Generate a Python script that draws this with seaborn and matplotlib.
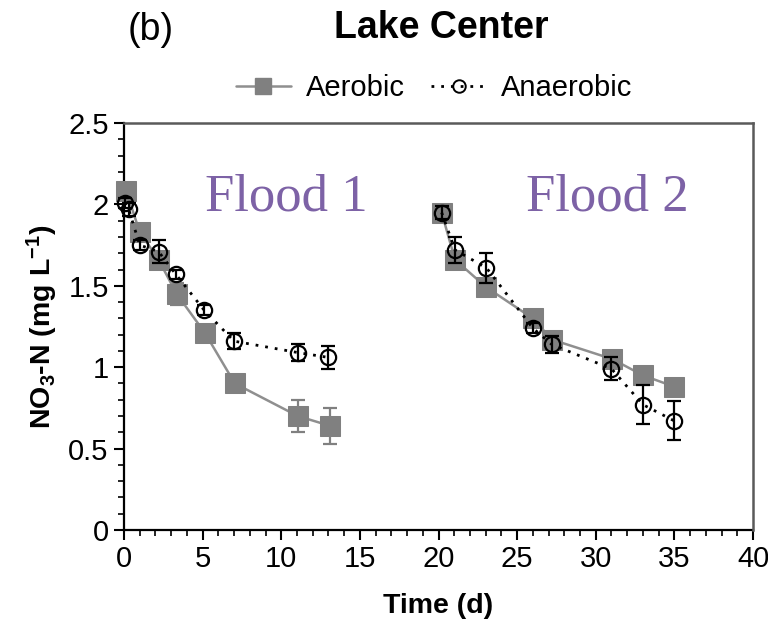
import numpy as np
import pandas as pd
import matplotlib
matplotlib.use("Agg")
import matplotlib.pyplot as plt
from matplotlib.ticker import MultipleLocator
from matplotlib.lines import Line2D
import seaborn as sns

# ---------------- data ----------------
aer_t1 = [0.15, 1.0, 2.2, 3.35, 5.15, 7.05, 11.05, 13.1]
aer_y1 = [2.08, 1.83, 1.66, 1.45, 1.21, 0.90, 0.70, 0.64]
aer_e1 = [0.04, 0.04, 0.04, 0.07, 0.04, 0.03, 0.10, 0.11]
aer_t2 = [20.2, 21.05, 23.05, 26.0, 27.2, 31.05, 33.0, 35.0]
aer_y2 = [1.95, 1.66, 1.49, 1.30, 1.17, 1.05, 0.95, 0.88]
aer_e2 = [0.04, 0.03, 0.03, 0.03, 0.03, 0.03, 0.03, 0.03]

ana_t1 = [0.05, 0.3, 1.0, 2.2, 3.3, 5.1, 7.0, 11.05, 13.0]
ana_y1 = [2.01, 1.97, 1.75, 1.71, 1.57, 1.35, 1.16, 1.09, 1.06]
ana_e1 = [0.03, 0.04, 0.03, 0.07, 0.03, 0.03, 0.05, 0.05, 0.07]
ana_t2 = [20.2, 21.05, 23.05, 26.0, 27.2, 31.0, 33.0, 35.0]
ana_y2 = [1.95, 1.72, 1.61, 1.24, 1.14, 0.99, 0.77, 0.67]
ana_e2 = [0.04, 0.08, 0.09, 0.03, 0.05, 0.07, 0.12, 0.12]

flood_labels = ["Flood 1", "Flood 2"]
flood_x = [10.35, 30.75]
flood_y = [1.96, 1.96]

rows = []
for trt, fl, ts, ys, es in [
    ("Aerobic", 1, aer_t1, aer_y1, aer_e1),
    ("Aerobic", 2, aer_t2, aer_y2, aer_e2),
    ("Anaerobic", 1, ana_t1, ana_y1, ana_e1),
    ("Anaerobic", 2, ana_t2, ana_y2, ana_e2),
]:
    for t, y, e in zip(ts, ys, es):
        rows.append(dict(time=t, no3=y, err=e, treatment=trt, flood=fl))
df = pd.DataFrame(rows)

# ---------------- style ----------------
sns.set_theme(style="ticks")
plt.rcParams['font.family'] = ['Liberation Sans', 'DejaVu Sans']
plt.rcParams['text.color'] = 'black'
plt.rcParams['axes.labelcolor'] = 'black'
plt.rcParams['xtick.color'] = 'black'
plt.rcParams['ytick.color'] = 'black'
plt.rcParams['mathtext.fontset'] = 'custom'
plt.rcParams['mathtext.rm'] = 'Liberation Sans:bold'
plt.rcParams['mathtext.it'] = 'Liberation Sans:bold'
plt.rcParams['mathtext.bf'] = 'Liberation Sans:bold'
plt.rcParams['mathtext.default'] = 'rm'

fig = plt.figure(figsize=(7.68, 6.29), dpi=100)
ax = fig.add_axes([124/768, 1-530/629, (753-124)/768, (530-123)/629])

aer_col = "#808080"
aer_line = "#8f8f8f"

for fl in [1, 2]:
    d = df[(df.treatment == "Aerobic") & (df.flood == fl)]
    eb = ax.errorbar(d.time, d.no3, yerr=d.err, fmt='none', ecolor=aer_col,
                     elinewidth=1.6, capsize=5, capthick=1.6, zorder=2)
    for art in eb.lines[1] + eb.lines[2]:
        art.set_clip_on(False)
    sns.lineplot(data=d, x="time", y="no3", ax=ax, color=aer_line, lw=1.8,
                 marker="s", markersize=14, markerfacecolor=aer_col,
                 markeredgecolor=aer_col, sort=False, estimator=None, zorder=3,
                 clip_on=False)
for fl in [1, 2]:
    d = df[(df.treatment == "Anaerobic") & (df.flood == fl)]
    eb = ax.errorbar(d.time, d.no3, yerr=d.err, fmt='none', ecolor="black",
                     elinewidth=1.6, capsize=5, capthick=1.6, zorder=4)
    for art in eb.lines[1] + eb.lines[2]:
        art.set_clip_on(False)
    sns.lineplot(data=d, x="time", y="no3", ax=ax, color="black", lw=2.0,
                 linestyle=(0, (1, 2.5)), marker="o", markersize=11,
                 markerfacecolor="none", markeredgecolor="black",
                 markeredgewidth=1.6, sort=False, estimator=None, zorder=5,
                 clip_on=False)

for lab, x, y in zip(flood_labels, flood_x, flood_y):
    ax.text(x, y, lab, ha="center", va="baseline", fontsize=38,
            family="Liberation Serif", color="#7d62a6", zorder=6)

ax.set_xlim(0, 40)
ax.set_ylim(0, 2.5)
ax.xaxis.set_major_locator(MultipleLocator(5))
ax.xaxis.set_minor_locator(MultipleLocator(1))
ax.yaxis.set_minor_locator(MultipleLocator(0.1))
ax.set_yticks([0, 0.5, 1, 1.5, 2, 2.5])
ax.set_yticklabels(["0", "0.5", "1", "1.5", "2", "2.5"])
ax.tick_params(which="major", direction="out", length=7, width=1.5,
               labelsize=21, color="black", pad=4)
ax.tick_params(which="minor", direction="out", length=4, width=1.2, color="black")

for s in ["left", "bottom"]:
    ax.spines[s].set_color("black")
    ax.spines[s].set_linewidth(1.6)
    ax.spines[s].set_zorder(1)
for s in ["top", "right"]:
    ax.spines[s].set_visible(True)
    ax.spines[s].set_color("#5a5a5a")
    ax.spines[s].set_linewidth(1.8)

ax.set_xlabel("Time (d)", fontsize=20.5, fontweight="bold", labelpad=14)
ax.set_ylabel(r"NO$_3$-N (mg L$^{-1}$)", fontsize=20.5, fontweight="bold", labelpad=6)

if ax.get_legend() is not None:
    ax.get_legend().remove()

handles = [
    Line2D([], [], color=aer_line, lw=1.8, marker="s", markersize=12,
           markerfacecolor=aer_col, markeredgecolor=aer_col),
    Line2D([], [], color="black", lw=2.0, linestyle=(0, (1, 2.5)), marker="o",
           markersize=9, markerfacecolor="none", markeredgecolor="black",
           markeredgewidth=1.4),
]
fig.legend(handles, ["Aerobic", "Anaerobic"], loc="center", ncol=2,
           bbox_to_anchor=(434/768, 1-88/629), frameon=False, fontsize=21,
           handlelength=1.9, columnspacing=0.9, handletextpad=0.5)

fig.text(441/768, 1-28/629, "Lake Center", ha="center", va="center",
         fontsize=27, fontweight="bold")
fig.text(151/768, 1-30/629, "(b)", ha="center", va="center", fontsize=27)

fig.savefig("out.png", dpi=100)
